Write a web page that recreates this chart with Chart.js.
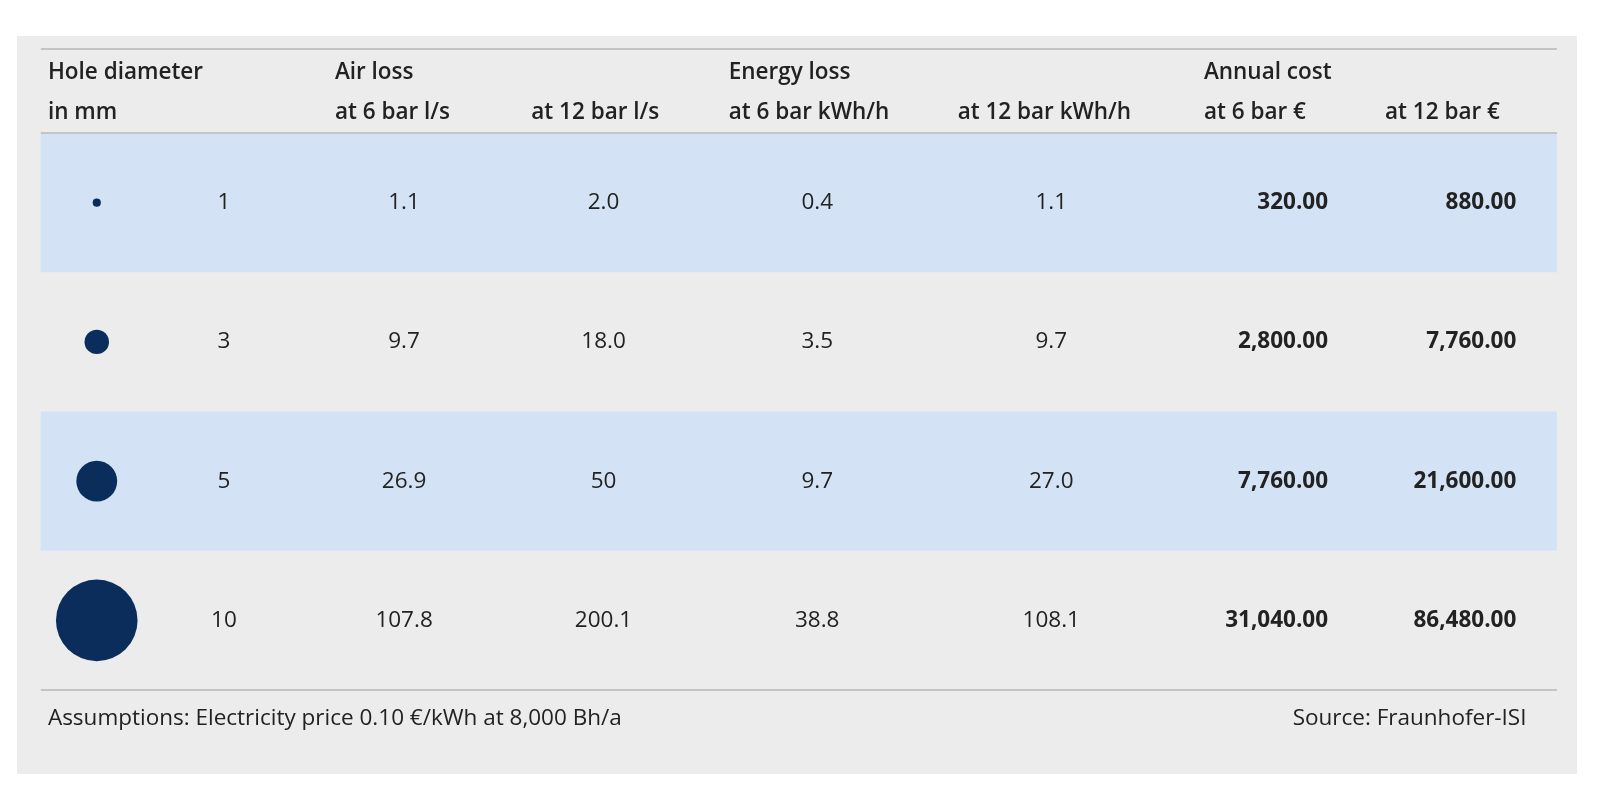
<!DOCTYPE html>
<html>
<head>
<meta charset="utf-8">
<script src="https://cdn.jsdelivr.net/npm/chart.js@4"></script>
<style>
  html, body { margin: 0; padding: 0; background: #fff; overflow: hidden; }
  canvas { display: block; }
</style>
</head>
<body>
<canvas id="leakTable" width="1600" height="800"></canvas>
<script>
// data
const holeDiameters = [1, 3, 5, 10];
const airLoss6 = ['1.1', '9.7', '26.9', '107.8'];
const airLoss12 = ['2.0', '18.0', '50', '200.1'];
const energyLoss6 = ['0.4', '3.5', '9.7', '38.8'];
const energyLoss12 = ['1.1', '9.7', '27.0', '108.1'];
const annualCost6 = ['320.00', '2,800.00', '7,760.00', '31,040.00'];
const annualCost12 = ['880.00', '7,760.00', '21,600.00', '86,480.00'];
const headerTop = ['Hole diameter', 'Air loss', '', 'Energy loss', '', 'Annual cost', ''];
const headerBottom = ['in mm', 'at 6 bar l/s', 'at 12 bar l/s', 'at 6 bar kWh/h', 'at 12 bar kWh/h', 'at 6 bar €', 'at 12 bar €'];
const footLeft = 'Assumptions: Electricity price 0.10 €/kWh at 8,000 Bh/a';
const footRight = 'Source: Fraunhofer-ISI';
const rowLabels = ['r1', 'r2', 'r3', 'r4'];

// layout (column anchors in x-scale units)
const headerX = [7, 289, 482, 676, 901, 1143, 1321];
const cellX = [180, 357, 553, 763, 993, 1265, 1450];
const cellAlign = ['center', 'center', 'center', 'center', 'center', 'right', 'right'];
const bubbleX = 55;

const FONT = '"Open Sans", "Noto Sans", sans-serif';

const tablePlugin = {
  id: 'tablePlugin',
  beforeDatasetsDraw(chart) {
    const { ctx, chartArea: a, scales: { x, y } } = chart;
    ctx.save();
    // panel
    ctx.fillStyle = '#ececec';
    ctx.fillRect(17, 36, 1560, 738);
    // bands
    const band = Math.abs(y.getPixelForValue(1) - y.getPixelForValue(0));
    rowLabels.forEach((r, i) => {
      if (i % 2 === 0) {
        const cy = y.getPixelForValue(i);
        ctx.fillStyle = '#d3e3f5';
        ctx.fillRect(a.left, cy - band / 2, a.right - a.left, band);
      }
    });
    // lines
    ctx.strokeStyle = '#c4c4c4';
    ctx.lineWidth = 2;
    [a.top - 84, a.top, a.bottom].forEach(py => {
      ctx.beginPath(); ctx.moveTo(a.left, py); ctx.lineTo(a.right, py); ctx.stroke();
    });
    // header
    ctx.fillStyle = '#222';
    ctx.font = '600 22.5px ' + FONT;
    ctx.textAlign = 'left';
    ctx.textBaseline = 'middle';
    headerTop.forEach((t, i) => ctx.fillText(t, x.getPixelForValue(headerX[i]), a.top - 60));
    headerBottom.forEach((t, i) => ctx.fillText(t, x.getPixelForValue(headerX[i]), a.top - 20));
    // cells
    const cols = [holeDiameters.map(String), airLoss6, airLoss12, energyLoss6, energyLoss12, annualCost6, annualCost12];
    cols.forEach((col, c) => {
      ctx.textAlign = cellAlign[c];
      ctx.font = (c >= 5 ? '700 22.5px ' : '400 22.5px ') + FONT;
      col.forEach((v, r) => ctx.fillText(v, x.getPixelForValue(cellX[c]), y.getPixelForValue(r)));
    });
    // footer
    ctx.font = '400 22.5px ' + FONT;
    ctx.textAlign = 'left';
    ctx.fillText(footLeft, x.getPixelForValue(headerX[0]), a.bottom + 29);
    ctx.textAlign = 'right';
    ctx.fillText(footRight, x.getPixelForValue(1460), a.bottom + 29);
    ctx.restore();
  }
};

new Chart(document.getElementById('leakTable'), {
  type: 'bubble',
  data: {
    datasets: [{
      data: holeDiameters.map((d, i) => ({ x: bubbleX, y: rowLabels[i], r: d * 4.08 })),
      backgroundColor: '#0b2d5b',
      borderColor: '#0b2d5b',
      borderWidth: 0
    }]
  },
  options: {
    responsive: false,
    animation: false,
    devicePixelRatio: 1,
    layout: { padding: { left: 36, right: 43, top: 133, bottom: 110 } },
    plugins: { legend: { display: false }, tooltip: { enabled: false } },
    scales: {
      x: { type: 'linear', min: 0, max: 1490, display: false },
      y: { type: 'category', labels: rowLabels, offset: true, display: false }
    }
  },
  plugins: [tablePlugin]
});
</script>
</body>
</html>
